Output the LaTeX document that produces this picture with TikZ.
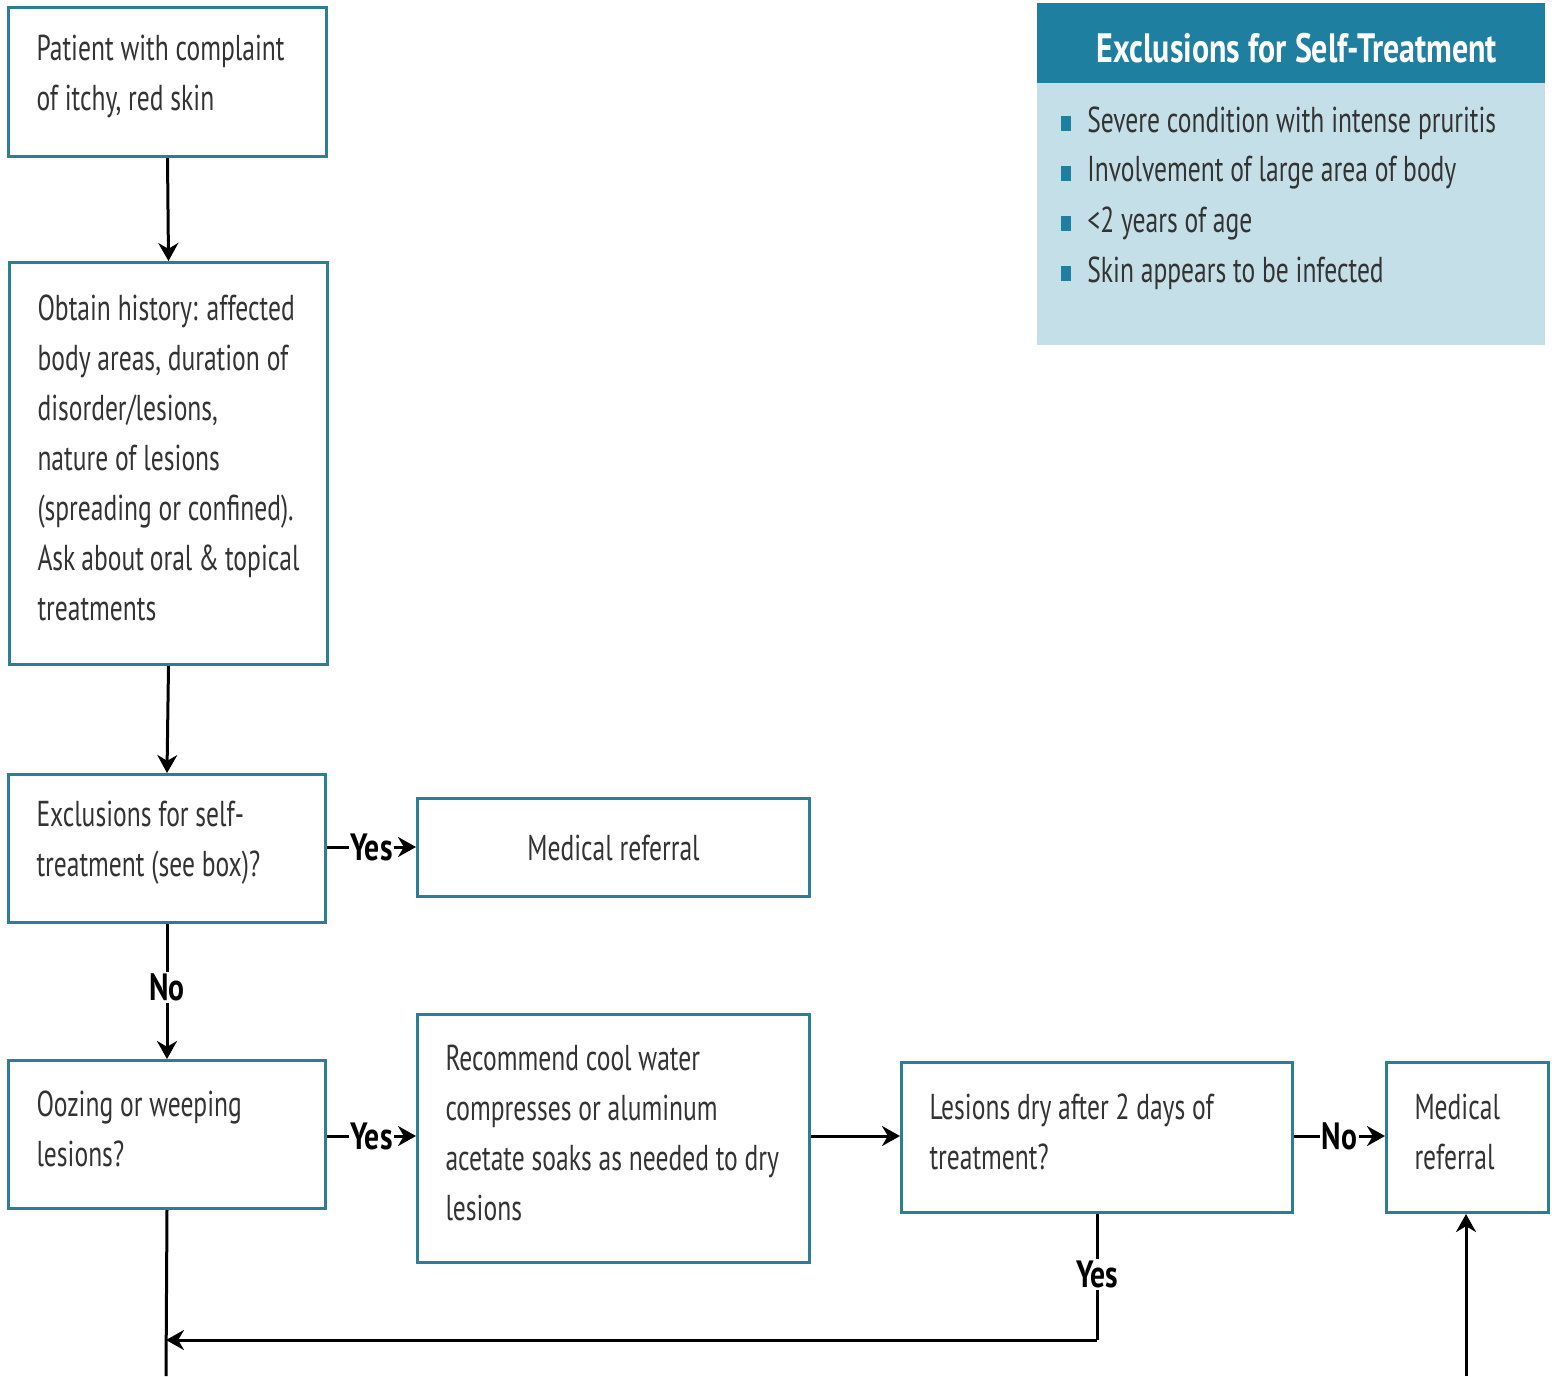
\documentclass[tikz,border=0pt]{standalone}
\usepackage{fontspec}
\setmainfont{PT Sans}[FakeStretch=0.71]
\newfontfamily\lblfont{PT Sans}[FakeStretch=0.78,BoldFont={PT Sans Bold}]
\usetikzlibrary{arrows.meta}
\definecolor{tealline}{HTML}{2A7F98}
\definecolor{headteal}{HTML}{1E7FA0}
\definecolor{bodyblue}{HTML}{C4DFE7}
\definecolor{txt}{HTML}{333333}
\tikzset{
  box/.style={draw=tealline, line width=1.5pt, fill=white, rectangle, anchor=north west,
    inner xsep=14pt, inner ysep=0pt, align=left, text=txt,
    font=\fontsize{18}{25}\selectfont,
    execute at begin node={\spaceskip=0pt\xspaceskip=0pt\hyphenpenalty=10000\exhyphenpenalty=10000},
    execute at end node={\par\vspace*{6pt}}},
  cbox/.style={draw=tealline, line width=1.5pt, fill=white, rectangle, anchor=north west,
    inner sep=0pt, text=txt, font=\fontsize{18}{25}\selectfont},
  conn/.style={line width=1.5pt, black, -{Stealth[length=9pt,width=10pt]}},
  plain/.style={line width=1.5pt, black},
  lbl/.style={fill=white, inner sep=1pt, font=\lblfont\bfseries\fontsize{19}{20}\selectfont},
  bul/.style={fill=headteal, minimum width=5pt, minimum height=7.5pt, inner sep=0pt},
  btxt/.style={anchor=west, text=txt, inner sep=0pt, font=\fontsize{18}{25}\selectfont}
}
\begin{document}
\begin{tikzpicture}[x=0.5pt,y=-0.5pt]
\useasboundingbox (0,0) rectangle (1556,1376);
\node[box, minimum width=159pt, minimum height=74.5pt, text width=131pt] (b1) at (7,6)
  {Patient with complaint\\of itchy, red skin};
\node[box, minimum width=159pt, minimum height=201pt, text width=131pt] (b2) at (8,261)
  {Obtain history: affected\\body areas, duration of\\disorder/lesions,\\nature of lesions\\(spreading or confined).\\Ask about oral \& topical\\treatments};
\node[box, minimum width=158.5pt, minimum height=74pt, text width=130.5pt] (b3) at (7,773)
  {Exclusions for self-\\treatment (see box)?};
\node[cbox, minimum width=196pt, minimum height=49pt] (mr1) at (416,797)
  {Medical referral};
\node[box, minimum width=158.5pt, minimum height=74pt, text width=130.5pt] (b4) at (7,1059)
  {Oozing or weeping\\lesions?};
\node[box, minimum width=196pt, minimum height=124pt, text width=168pt] (rec) at (416,1013)
  {Recommend cool water\\compresses or aluminum\\acetate soaks as needed to dry\\lesions};
\node[box, minimum width=195.5pt, minimum height=75pt, text width=167.5pt] (dry) at (900,1061)
  {Lesions dry after 2 days of\\treatment?};
\node[box, minimum width=81pt, minimum height=75pt, text width=53pt] (mr2) at (1385,1061)
  {Medical\\referral};

% exclusions box
\fill[bodyblue] (1037,3) rectangle (1545,345);
\fill[headteal] (1037,3) rectangle (1545,83);
\node[text=white, font=\lblfont\bfseries\fontsize{20.5}{24}\selectfont] (hd) at (1297,48) {Exclusions for Self-Treatment};
\foreach \y/\t [count=\i] in {123/Severe condition with intense pruritis,173/Involvement of large area of body,223/<2 years of age,273/Skin appears to be infected}{
  \node[bul] (bu\i) at (1066,\y) {};
  \node[btxt] (bt\i) at (1087,\y) {\t};
}

% connectors
\draw[conn] (b1.south) -- (b2.north);
\draw[conn] (b2.south) -- (b3.north);
\draw[conn] (b3.east |- 0,847) -- node[lbl] {Yes} (mr1.west |- 0,847);
\draw[conn] (b3.south) -- node[lbl, pos=0.47] {No} (b4.north);
\draw[conn] (b4.east |- 0,1136) -- node[lbl] {Yes} (rec.west |- 0,1136);
\draw[conn] (rec.east |- 0,1136) -- (dry.west |- 0,1136);
\draw[conn] (dry.east |- 0,1136) -- node[lbl] {No} (mr2.west |- 0,1136);
\coordinate (turn) at (1097,1340);
\coordinate (bend) at (166,1340);
\draw[plain] (dry.south -| turn) -- node[lbl, pos=0.48] {Yes} (turn);
\draw[conn] (turn) -- (bend);
\coordinate (b4out) at (166,1376);
\draw[plain] (b4.south) -- (b4out);
\coordinate (mrin) at (1466,1376);
\draw[conn] (mrin) -- (mr2.south -| mrin);
\end{tikzpicture}
\end{document}
